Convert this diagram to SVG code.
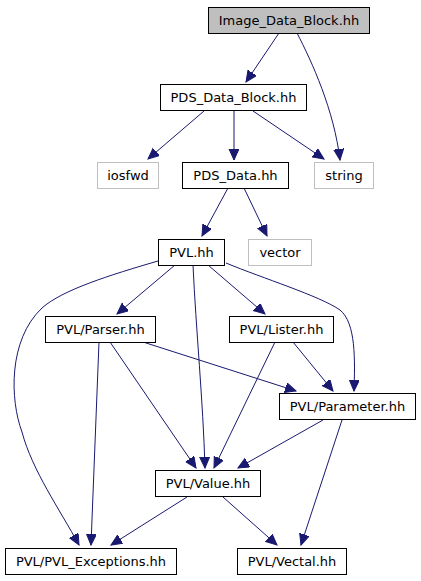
<svg xmlns="http://www.w3.org/2000/svg" width="421" height="581" viewBox="0 0 421 581">
<defs>
<style>
.n rect{fill:#ffffff;stroke:#000000;stroke-width:1}
.g rect{fill:#ffffff;stroke:#bfbfbf;stroke-width:1}
.root rect{fill:#bfbfbf;stroke:#000000;stroke-width:1}
text{font-family:"DejaVu Sans",sans-serif;font-size:13px;fill:#000000;text-anchor:middle}
.e path{fill:none;stroke:#191970;stroke-width:1;marker-end:url(#ah)}
</style>
<marker id="ah" markerUnits="userSpaceOnUse" markerWidth="14" markerHeight="12" refX="11" refY="5" orient="auto">
<path d="M0,0 L11,5 L0,10 Z" fill="#191970" stroke="#191970" stroke-width="1"/>
</marker>
</defs>
<rect width="421" height="581" fill="#ffffff"/>
<g class="e" id="edges">
<path d="M279,33 L246,82"/>
<path d="M297,33 C312,62 334,110 340,160"/>
<path d="M204,111 L148,159"/>
<path d="M234,111 L234,160"/>
<path d="M253,111 L324,159"/>
<path d="M228,188 L202,236"/>
<path d="M244,188 L267,236"/>
<path d="M158,261 C110,275 62,290 42,308 C8,340 10,400 22,432 C32,470 60,510 79,545"/>
<path d="M175,265 L117,314"/>
<path d="M193,265 C196,330 203,400 205,468"/>
<path d="M208,265 L265,314"/>
<path d="M226,263 C262,278 320,296 340,310 C356,323 355,360 354,391"/>
<path d="M143,342 L296,391"/>
<path d="M99,342 L91,545"/>
<path d="M110,342 L196,468"/>
<path d="M275,342 L214,468"/>
<path d="M293,342 L333,391"/>
<path d="M323,420 L238,468"/>
<path d="M342,420 L301,545"/>
<path d="M187,497 L111,545"/>
<path d="M223,497 L277,545"/>
</g>
<g id="node_image_data_block" class="root"><rect x="208.5" y="7.5" width="161" height="26"/><text x="289" y="25">Image_Data_Block.hh</text></g>
<g id="node_pds_data_block" class="n"><rect x="160.5" y="84.5" width="146" height="26"/><text x="233.5" y="102">PDS_Data_Block.hh</text></g>
<g id="node_iosfwd" class="g"><rect x="97.5" y="162.5" width="61" height="26"/><text x="128" y="180">iosfwd</text></g>
<g id="node_pds_data" class="n"><rect x="182.5" y="162.5" width="106" height="26"/><text x="235.5" y="180">PDS_Data.hh</text></g>
<g id="node_string" class="g"><rect x="314.5" y="162.5" width="59" height="26"/><text x="344" y="180">string</text></g>
<g id="node_pvl" class="n"><rect x="158.5" y="239.5" width="66" height="26"/><text x="191.5" y="257">PVL.hh</text></g>
<g id="node_vector" class="g"><rect x="248.5" y="239.5" width="63" height="26"/><text x="280" y="257">vector</text></g>
<g id="node_parser" class="n"><rect x="45.5" y="316.5" width="110" height="26"/><text x="100.5" y="334">PVL/Parser.hh</text></g>
<g id="node_lister" class="n"><rect x="229.5" y="316.5" width="104" height="26"/><text x="281.5" y="334">PVL/Lister.hh</text></g>
<g id="node_parameter" class="n"><rect x="279.5" y="393.5" width="136" height="26"/><text x="347.5" y="411">PVL/Parameter.hh</text></g>
<g id="node_value" class="n"><rect x="155.5" y="470.5" width="105" height="26"/><text x="208" y="488">PVL/Value.hh</text></g>
<g id="node_exceptions" class="n"><rect x="5.5" y="548.5" width="171" height="26"/><text x="91" y="566">PVL/PVL_Exceptions.hh</text></g>
<g id="node_vectal" class="n"><rect x="237.5" y="548.5" width="109" height="26"/><text x="292" y="566">PVL/Vectal.hh</text></g>
</svg>
